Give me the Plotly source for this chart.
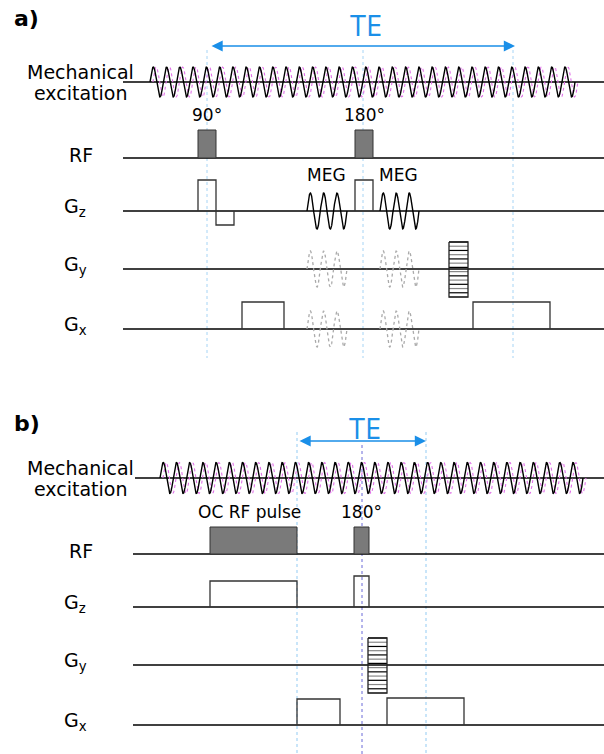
import numpy as np
import plotly.graph_objects as go

# ------------------------------------------------------------------
# Data (diagram time axis in drawing units, amplitudes in drawing units)
# ------------------------------------------------------------------
panel_labels = ["a)", "b)"]
channel_names = ["RF", "G<sub>z</sub>", "G<sub>y</sub>", "G<sub>x</sub>"]

# ---- panel a : spin-echo with motion-encoding gradients (MEG)
a_rows = [82, 158, 211, 269, 329]          # mech, RF, Gz, Gy, Gx baselines
a_line_start = [123, 123, 123, 123, 123]
a_mech_span = [150, 575]
a_mech_cycles = 32
a_mech_amp = 15
a_rf_t0 = [198, 355]
a_rf_t1 = [216, 373]
a_rf_amp = [28, 28]
a_rf_names = ["90°", "180°"]
a_gz_ss_t = [198, 198, 216, 216, 234, 234]
a_gz_ss_amp = [0, 31, 31, -14, -14, 0]
a_gz_ref_t = [355, 373]
a_gz_ref_amp = 31
a_meg_t0 = [307, 380]
a_meg_t1 = [347, 419]
a_meg_cycles = 3
a_meg_amp = 18
a_meg_names = ["MEG", "MEG"]
a_gy_pe_t = [449, 468]
a_gy_pe_amp = [27, -28]
a_gy_pe_steps = 14
a_gx_t0 = [242, 473]
a_gx_t1 = [284, 550]
a_gx_amp = [27, 27]
a_markers = [207, 363, 513]
a_te = [210, 515]

# ---- panel b : optimal-control RF pulse
b_rows = [478, 554, 607, 665, 725]
b_line_start = [135, 133, 133, 133, 133]
b_mech_span = [160, 583]
b_mech_cycles = 32
b_mech_amp = 15.5
b_rf_t0 = [210, 354]
b_rf_t1 = [297, 369]
b_rf_amp = [27, 27]
b_rf_names = ["OC RF pulse", "180°"]
b_gz_t0 = [210, 354]
b_gz_t1 = [297, 369]
b_gz_amp = [26, 31]
b_gy_pe_t = [368, 387]
b_gy_pe_amp = [27, -28]
b_gy_pe_steps = 14
b_gx_t0 = [297, 387]
b_gx_t1 = [340, 464]
b_gx_amp = [26, 27]
b_markers = [297, 362, 426]
b_te = [298, 426]

# ------------------------------------------------------------------
W, H = 604, 754
FONT = "DejaVu Sans"
BLUE = "#1a8fe8"
LIGHT = "#a6d4f5"
DARKM = "#6a6ad8"
PINK = "#e070e8"
EDGE = "#333333"

fig = go.Figure()
ann = []


def line(xs, ys, color="black", width=1.5, dash="solid", fill=None, fillcolor=None):
    fig.add_trace(go.Scatter(x=xs, y=ys, mode="lines",
                             line=dict(color=color, width=width, dash=dash),
                             fill=fill, fillcolor=fillcolor,
                             hoverinfo="skip", showlegend=False))


def text(x, y, s, size=17, color="black", xanchor="center", bold=False, family=FONT):
    ann.append(dict(x=x, y=y, xref="x", yref="y", text=("<b>%s</b>" % s) if bold else s,
                    showarrow=False, xanchor=xanchor, yanchor="middle",
                    font=dict(family=family, size=size, color=color)))


def box(t0, t1, base, amp, filled=False):
    xs = [t0, t0, t1, t1]
    ys = [base, base - amp, base - amp, base]
    if filled:
        line(xs + [t0], ys + [base], color=EDGE, width=1, fill="toself", fillcolor="#7a7a7a")
    else:
        line(xs, ys, color=EDGE, width=1.3)


def sine(t0, t1, base, amp, cycles, color="black", width=1.4, dash="solid", n=900):
    t = np.linspace(t0, t1, n)
    y = base - amp * np.sin(2 * np.pi * cycles * (t - t0) / (t1 - t0))
    line(t, y, color=color, width=width, dash=dash)


def pe_table(t, base, amp, steps):
    top, bot = base - amp[0], base - amp[1]
    levels = np.linspace(top, bot, steps)
    for k, c in ((0, "black"), (1, "#888888")):
        xs, ys = [], []
        for i, lv in enumerate(levels):
            if i % 2 == k:
                xs += [t[0], t[1], None]
                ys += [lv, lv, None]
        line(xs, ys, color=c, width=1.2)
    line([t[0], t[0], t[1], t[1], t[0]], [top, bot, bot, top, top], color="#222", width=1.3)


def te_arrow(span, y, ytext):
    ann.append(dict(x=span[1], y=y, ax=span[0], ay=y, xref="x", yref="y",
                    axref="x", ayref="y", text="", showarrow=True,
                    arrowside="end+start", arrowhead=2, arrowsize=1.6,
                    arrowwidth=1.4, arrowcolor=BLUE, standoff=0, startstandoff=0))
    text((span[0] + span[1]) / 2 + 3, ytext, "TE", size=29, color=BLUE, family="Open Sans")


def mech(span, base, amp, cycles):
    period = (span[1] - span[0]) / cycles
    sine(span[0] + 0.22 * period, span[1] + 0.22 * period, base, amp, cycles,
         color=PINK, width=1.1, dash="dot")
    sine(span[0], span[1], base, amp, cycles, color="black", width=1.4, n=3000)


def labels(rows, ymech):
    text(80, ymech - 10, "Mechanical", size=19)
    text(80, ymech + 11, "excitation", size=19)
    text(67, rows[1] - 3, channel_names[0], size=19, xanchor="left")
    for i in range(1, 4):
        text(62, rows[i + 1] - 4, channel_names[i], size=19, xanchor="left")


# ---------------- panel a ----------------
for m in a_markers:
    line([m, m], [50, 358], color=LIGHT, width=1, dash="dot")
for y0, x0 in zip(a_rows, a_line_start):
    line([x0, W], [y0, y0], color="black", width=1.5)
mech(a_mech_span, a_rows[0], a_mech_amp, a_mech_cycles)
for t0, t1, amp, nm in zip(a_rf_t0, a_rf_t1, a_rf_amp, a_rf_names):
    box(t0, t1, a_rows[1], amp, filled=True)
    text((t0 + t1) / 2, a_rows[1] - amp - 15, nm, size=17)
line(a_gz_ss_t, [a_rows[2] - v for v in a_gz_ss_amp], color=EDGE, width=1.3)
box(a_gz_ref_t[0], a_gz_ref_t[1], a_rows[2], a_gz_ref_amp)
for t0, t1, nm in zip(a_meg_t0, a_meg_t1, a_meg_names):
    sine(t0, t1, a_rows[2], a_meg_amp, a_meg_cycles, color="black", width=1.4)
    sine(t0, t1, a_rows[3], a_meg_amp, a_meg_cycles, color="#aaaaaa", width=1.3, dash="dot")
    sine(t0, t1, a_rows[4], a_meg_amp, a_meg_cycles, color="#aaaaaa", width=1.3, dash="dot")
    text((t0 + t1) / 2 - 1, a_rows[2] - 36, nm, size=17)
pe_table(a_gy_pe_t, a_rows[3], a_gy_pe_amp, a_gy_pe_steps)
for t0, t1, amp in zip(a_gx_t0, a_gx_t1, a_gx_amp):
    box(t0, t1, a_rows[4], amp)
te_arrow(a_te, 46, 24)
labels(a_rows, 82)
text(12, 18, panel_labels[0], size=22, bold=True, xanchor="left")

# ---------------- panel b ----------------
line([b_markers[0]] * 2, [432, H], color=LIGHT, width=1.2, dash="dot")
line([b_markers[2]] * 2, [432, H], color=LIGHT, width=1.2, dash="dot")
line([b_markers[1]] * 2, [445, H], color=DARKM, width=1, dash="dot")
for y0, x0 in zip(b_rows, b_line_start):
    line([x0, W], [y0, y0], color="black", width=1.5)
mech(b_mech_span, b_rows[0], b_mech_amp, b_mech_cycles)
for t0, t1, amp, nm in zip(b_rf_t0, b_rf_t1, b_rf_amp, b_rf_names):
    box(t0, t1, b_rows[1], amp, filled=True)
    text((t0 + t1) / 2 + (-4 if len(nm) > 5 else 0), b_rows[1] - amp - 15, nm, size=17)
for t0, t1, amp in zip(b_gz_t0, b_gz_t1, b_gz_amp):
    box(t0, t1, b_rows[2], amp)
pe_table(b_gy_pe_t, b_rows[3], b_gy_pe_amp, b_gy_pe_steps)
for t0, t1, amp in zip(b_gx_t0, b_gx_t1, b_gx_amp):
    box(t0, t1, b_rows[4], amp)
te_arrow(b_te, 441, 427)
labels(b_rows, 478)
text(12, 423, panel_labels[1], size=22, bold=True, xanchor="left")

fig.update_layout(
    width=W, height=H, autosize=False,
    margin=dict(l=0, r=0, t=0, b=0),
    paper_bgcolor="white", plot_bgcolor="white",
    xaxis=dict(range=[0, W], visible=False, fixedrange=True),
    yaxis=dict(range=[H, 0], visible=False, fixedrange=True),
    annotations=ann, showlegend=False,
)
fig.write_html(
    "out.html",
    config={"staticPlot": True, "displayModeBar": False},
    post_script="document.body.style.margin='0';document.body.style.overflow='hidden';",
)
